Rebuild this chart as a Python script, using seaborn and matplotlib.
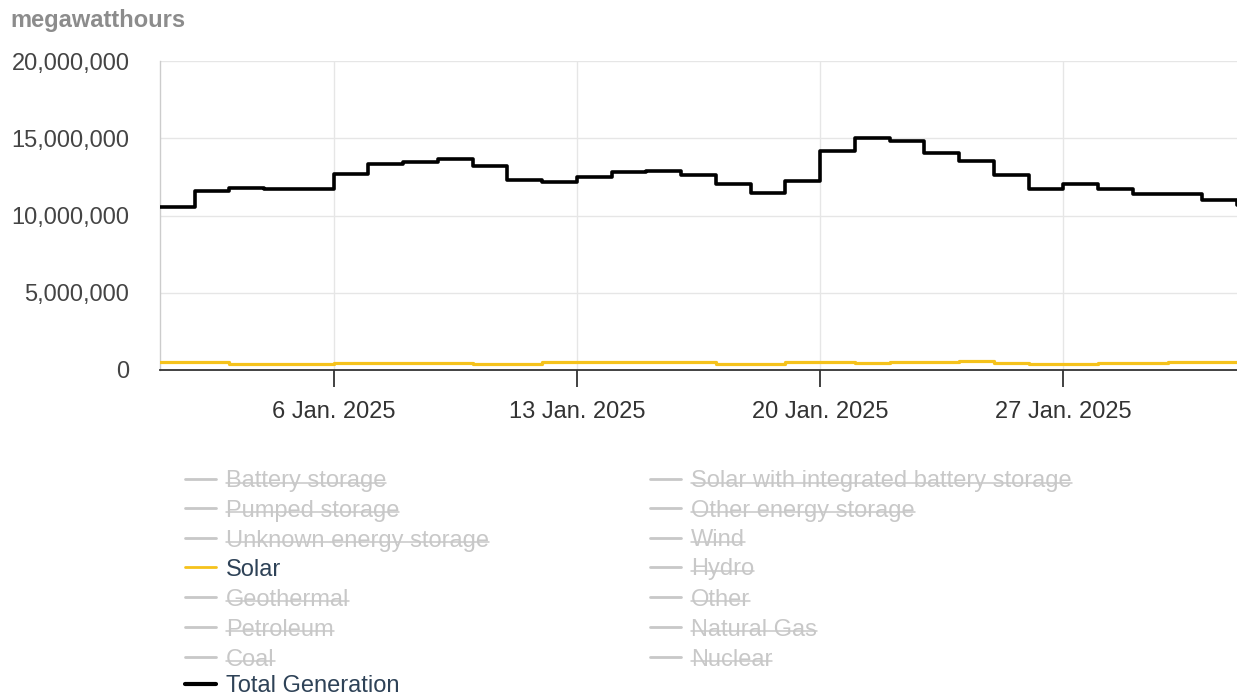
import matplotlib
matplotlib.use("Agg")
import matplotlib.pyplot as plt
from matplotlib.lines import Line2D
import seaborn as sns
import pandas as pd
import numpy as np

# ---------------- data ----------------
dates = pd.date_range("2025-01-01", "2025-02-01", freq="D")
total_generation = [
    10.55, 11.59, 11.81, 11.72, 11.70, 12.69, 13.32, 13.49, 13.66, 13.23,
    12.31, 12.16, 12.48, 12.84, 12.89, 12.62, 12.01, 11.43, 12.26, 14.15,
    15.04, 14.83, 14.06, 13.55, 12.65, 11.69, 12.05, 11.71, 11.37, 11.41,
    10.98, 10.68]
solar = [
    0.52, 0.50, 0.42, 0.40, 0.38, 0.47, 0.48, 0.47, 0.46, 0.38,
    0.36, 0.50, 0.52, 0.52, 0.52, 0.50, 0.42, 0.40, 0.50, 0.52,
    0.44, 0.52, 0.55, 0.60, 0.45, 0.42, 0.42, 0.46, 0.46, 0.50,
    0.50, 0.50]
y_ticks = [0, 5_000_000, 10_000_000, 15_000_000, 20_000_000]
x_tick_dates = pd.to_datetime(["2025-01-06", "2025-01-13", "2025-01-20", "2025-01-27"])
x_tick_labels = ["6 Jan. 2025", "13 Jan. 2025", "20 Jan. 2025", "27 Jan. 2025"]
unit_label = "megawatthours"
legend_col1 = ["Battery storage", "Pumped storage", "Unknown energy storage", "Solar",
               "Geothermal", "Petroleum", "Coal", "Total Generation"]
legend_col2 = ["Solar with integrated battery storage", "Other energy storage", "Wind",
               "Hydro", "Other", "Natural Gas", "Nuclear"]
visible = {"Solar": "#f5c21b", "Total Generation": "#000000"}

df = pd.DataFrame({
    "date": list(dates) * 2,
    "value": [v * 1e6 for v in solar] + [v * 1e6 for v in total_generation],
    "series": ["Solar"] * len(dates) + ["Total Generation"] * len(dates),
})

# ---------------- style ----------------
sns.set_theme(style="white")
plt.rcParams["font.family"] = ["Liberation Sans", "DejaVu Sans"]

W, H = 1237, 697
fig = plt.figure(figsize=(W / 100, H / 100), dpi=100)
ax = fig.add_axes([160 / W, 1 - 370 / H, (W - 160) / W, (370 - 61) / H])

sns.lineplot(data=df[df.series == "Solar"], x="date", y="value", ax=ax,
             color=visible["Solar"], linewidth=2.3, drawstyle="steps-post",
             legend=False, zorder=3)
sns.lineplot(data=df[df.series == "Total Generation"], x="date", y="value", ax=ax,
             color=visible["Total Generation"], linewidth=2.6, drawstyle="steps-post",
             legend=False, zorder=4)

ax.set_xlim(dates[0], dates[-1])
ax.set_ylim(0, 20_000_000)
ax.set_yticks(y_ticks)
ax.set_yticklabels([f"{v:,.0f}" for v in y_ticks])
ax.set_xticks(x_tick_dates)
ax.set_xticklabels(x_tick_labels)
ax.set_xlabel("")
ax.set_ylabel("")

ax.grid(True, color="#e6e6e6", linewidth=1.0)
ax.set_axisbelow(True)
for s in ["top", "right"]:
    ax.spines[s].set_visible(False)
ax.spines["left"].set_color("#cccccc")
ax.spines["left"].set_linewidth(1.0)
ax.spines["bottom"].set_color("#333333")
ax.spines["bottom"].set_linewidth(1.3)
ax.tick_params(axis="y", length=0, pad=22, labelsize=17, labelcolor="#444444")
ax.tick_params(axis="x", length=12, width=1.3, color="#333333", pad=10,
               labelsize=17, labelcolor="#333333", bottom=True)

fig.text(10 / W, 1 - 21 / H, unit_label, fontsize=17, fontweight="bold",
         color="#8c8c8c", ha="left", va="center")

# ---------------- legend (manual) ----------------
row_y = [479, 508, 538, 567, 597, 627, 657, 684]
hidden_col = "#c8c8c8"
hidden_texts = []

def add_entry(name, x_handle, y):
    col = visible.get(name, hidden_col)
    lw = 3.0 if name == "Total Generation" else 2.0
    fig.add_artist(Line2D([x_handle / W, (x_handle + 31) / W], [1 - y / H, 1 - y / H],
                          color=col, linewidth=lw, transform=fig.transFigure))
    tcol = "#2e4257" if name in visible else hidden_col
    t = fig.text((x_handle + 41) / W, 1 - y / H, name, fontsize=17, color=tcol,
                 ha="left", va="center_baseline")
    if name not in visible:
        hidden_texts.append(t)

for name, y in zip(legend_col1, row_y):
    add_entry(name, 185, y)
for name, y in zip(legend_col2, row_y):
    add_entry(name, 650, y)

fig.canvas.draw()
renderer = fig.canvas.get_renderer()
for t in hidden_texts:
    bb = t.get_window_extent(renderer)
    ys = bb.y0 + bb.height * 0.45
    fig.add_artist(Line2D([bb.x0 / W, bb.x1 / W], [ys / H, ys / H],
                          color=hidden_col, linewidth=1.1, transform=fig.transFigure))

fig.savefig("out.png", dpi=100)
